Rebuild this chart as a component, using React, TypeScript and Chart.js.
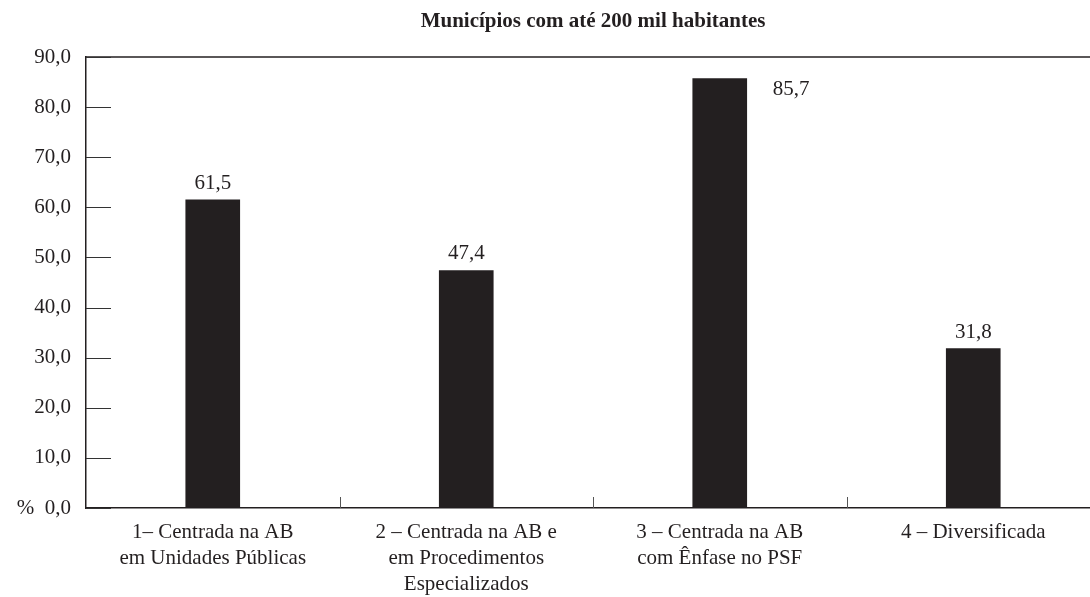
import React, { useEffect, useRef } from 'react';
import { Chart, registerables } from 'chart.js';

Chart.register(...registerables);

const chartTitle = 'Municípios com até 200 mil habitantes';
const categories: string[][] = [
  ['1– Centrada na AB', 'em Unidades Públicas'],
  ['2 – Centrada na AB e', 'em Procedimentos', 'Especializados'],
  ['3 – Centrada na AB', 'com Ênfase no PSF'],
  ['4 – Diversificada'],
];
const values: number[] = [61.5, 47.4, 85.7, 31.8];
const yTicks: number[] = [0, 10, 20, 30, 40, 50, 60, 70, 80, 90];

const INK = '#231f20';
const FONT = "'Liberation Serif', 'Times New Roman', serif";

const fmt = (v: number) => v.toFixed(1).replace('.', ',');

const decor = {
  id: 'decor',
  afterDatasetsDraw(chart: any) {
    const { ctx, chartArea: a, scales } = chart;
    const x = scales.x;
    const y = scales.y;
    ctx.save();
    // top frame line
    ctx.strokeStyle = INK;
    ctx.lineWidth = 1.5;
    ctx.beginPath();
    ctx.moveTo(a.left, a.top);
    ctx.lineTo(a.right + 20, a.top);
    ctx.stroke();
    // inner y ticks
    ctx.strokeStyle = '#333';
    ctx.lineWidth = 1;
    yTicks.forEach((v) => {
      const yy = Math.round(y.getPixelForValue(v)) + 0.5;
      ctx.beginPath();
      ctx.moveTo(a.left, yy);
      ctx.lineTo(a.left + 25, yy);
      ctx.stroke();
    });
    // category separators
    ctx.strokeStyle = '#555';
    for (let i = 1; i < categories.length; i++) {
      const xx = Math.round((x.getPixelForValue(i - 1) + x.getPixelForValue(i)) / 2) + 0.5;
      ctx.beginPath();
      ctx.moveTo(xx, a.bottom);
      ctx.lineTo(xx, a.bottom - 11);
      ctx.stroke();
    }
    // value labels
    ctx.fillStyle = INK;
    ctx.font = `21px ${FONT}`;
    ctx.textBaseline = 'alphabetic';
    const meta = chart.getDatasetMeta(0);
    meta.data.forEach((bar: any, i: number) => {
      const text = fmt(values[i]);
      if (bar.y - 32 < a.top) {
        ctx.textAlign = 'left';
        ctx.fillText(text, bar.x + bar.width / 2 + 26, bar.y + 16);
      } else {
        ctx.textAlign = 'center';
        ctx.fillText(text, bar.x, bar.y - 11);
      }
    });
    ctx.restore();
  },
};

export default function App() {
  const ref = useRef<HTMLCanvasElement>(null);
  useEffect(() => {
    if (!ref.current) return;
    const chart = new Chart(ref.current, {
      type: 'bar',
      data: {
        labels: categories,
        datasets: [
          {
            data: values,
            backgroundColor: INK,
            borderWidth: 0,
            barThickness: 54,
          },
        ],
      },
      options: {
        responsive: false,
        maintainAspectRatio: false,
        animation: false,
        devicePixelRatio: 1,
        layout: { padding: { left: 0, right: 10, top: 0, bottom: 0 } },
        plugins: {
          legend: { display: false },
          tooltip: { enabled: false },
          title: {
            display: true,
            text: chartTitle,
            fullSize: false,
            align: 'center',
            color: INK,
            font: { family: FONT, size: 21, weight: 'bold' },
            padding: { top: 9, bottom: 22.8 },
          },
        },
        scales: {
          x: {
            offset: true,
            grid: { display: true, drawOnChartArea: false, drawTicks: false },
            border: { display: true, color: INK, width: 1.5 },
            ticks: {
              color: INK,
              padding: 11,
              maxRotation: 0,
              autoSkip: false,
              font: { family: FONT, size: 21, lineHeight: 26 / 21 },
            },
            afterFit: (s: any) => {
              s.height = 89;
            },
          },
          y: {
            min: 0,
            max: 90,
            grid: { display: true, drawOnChartArea: false, drawTicks: false },
            border: { display: true, color: INK, width: 1.5 },
            afterBuildTicks: (s: any) => {
              s.ticks = yTicks.map((v) => ({ value: v }));
            },
            ticks: {
              color: INK,
              padding: 15,
              font: { family: FONT, size: 21 },
              callback: (v: any) => (Number(v) === 0 ? '%  0,0' : fmt(Number(v))),
            },
            afterFit: (s: any) => {
              s.width = 86;
            },
          },
        },
      },
      plugins: [decor],
    });
    return () => chart.destroy();
  }, []);
  return (
    <div
      style={{
        position: 'fixed',
        left: 0,
        top: 0,
        width: 1090,
        height: 597,
        overflow: 'hidden',
        background: '#fff',
      }}
    >
      <canvas ref={ref} width={1110} height={597} style={{ display: 'block' }} />
    </div>
  );
}
